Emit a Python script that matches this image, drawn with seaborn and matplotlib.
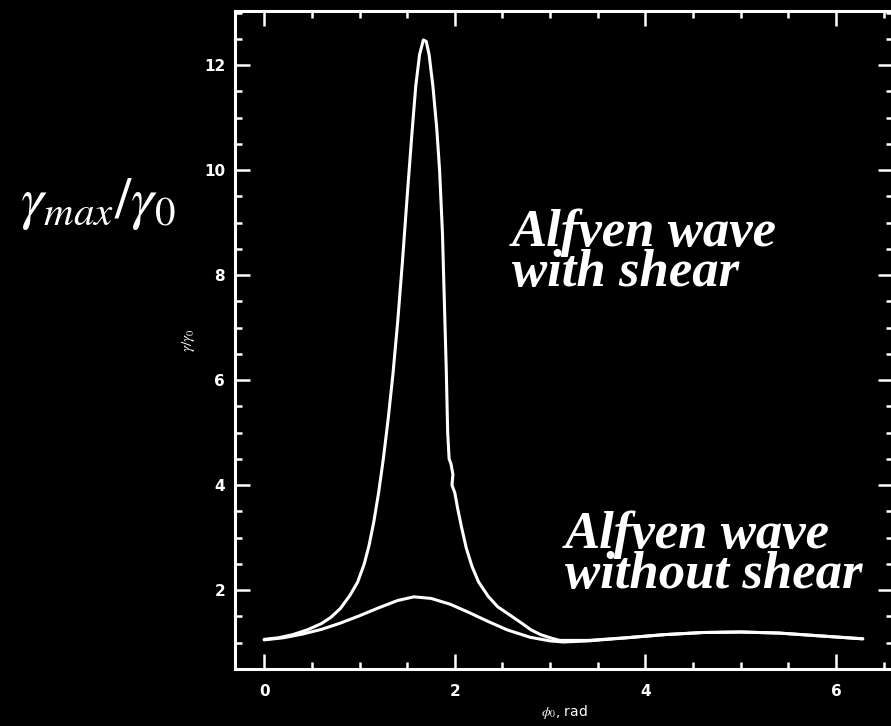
import seaborn as sns
import matplotlib.pyplot as plt
import pandas as pd
from matplotlib.ticker import MultipleLocator

# -- DATA -- #
shear_phi = [0.00, 0.15, 0.30, 0.45, 0.60, 0.70, 0.80, 0.90, 0.98, 1.05, 1.10,
             1.15, 1.20, 1.25, 1.30, 1.35, 1.40, 1.45, 1.50, 1.55, 1.59, 1.63,
             1.67, 1.70, 1.73, 1.77, 1.81, 1.84, 1.87, 1.89, 1.91, 1.925, 1.94,
             1.96, 1.98, 1.97, 2.00, 2.03, 2.07, 2.12, 2.18, 2.25, 2.35, 2.45,
             2.58, 2.70, 2.80, 2.90, 3.00, 3.10, 3.40, 3.80, 4.20, 4.60, 5.00,
             5.40, 5.80, 6.28]
shear_gamma = [1.06, 1.09, 1.15, 1.24, 1.36, 1.48, 1.65, 1.90, 2.15, 2.50, 2.85,
               3.30, 3.85, 4.50, 5.25, 6.10, 7.10, 8.25, 9.50, 10.70, 11.60, 12.20,
               12.48, 12.45, 12.20, 11.60, 10.80, 10.00, 8.80, 7.50, 6.20, 5.00, 4.50,
               4.40, 4.20, 4.00, 3.85, 3.55, 3.20, 2.80, 2.45, 2.15, 1.88, 1.68,
               1.52, 1.37, 1.24, 1.15, 1.09, 1.04, 1.04, 1.09, 1.15, 1.19, 1.20,
               1.18, 1.13, 1.07]

noshear_phi = [0.00, 0.20, 0.40, 0.60, 0.80, 1.00, 1.20, 1.40, 1.57, 1.75, 1.95,
               2.15, 2.35, 2.55, 2.79, 3.00, 3.14, 3.40, 3.80, 4.20, 4.60, 5.00,
               5.40, 5.80, 6.28]
noshear_gamma = [1.05, 1.09, 1.16, 1.25, 1.37, 1.51, 1.66, 1.80, 1.87, 1.84, 1.73,
                 1.57, 1.40, 1.24, 1.10, 1.03, 1.01, 1.03, 1.09, 1.15, 1.19, 1.20,
                 1.18, 1.13, 1.07]

x_ticks = [0, 2, 4, 6]
y_ticks = [2, 4, 6, 8, 10, 12]

# -- STYLE -- #
sns.set_theme(style='ticks')
plt.rcParams['font.family'] = ['DejaVu Sans']
plt.rcParams['mathtext.fontset'] = 'stix'

fig = plt.figure(figsize=(8.91, 7.26), dpi=100, facecolor='black')
ax = fig.add_axes([0.2637, 0.0785, 0.7385, 0.9063])
ax.set_facecolor('black')

df_shear = pd.DataFrame({'phi': shear_phi, 'gamma': shear_gamma})
df_noshear = pd.DataFrame({'phi': noshear_phi, 'gamma': noshear_gamma})

sns.lineplot(data=df_shear, x='phi', y='gamma', ax=ax, color='white',
             lw=2.2, sort=False, estimator=None)
sns.lineplot(data=df_noshear, x='phi', y='gamma', ax=ax, color='white',
             lw=2.2, sort=False, estimator=None)

ax.set_xlim(-0.307, 6.597)
ax.set_ylim(0.495, 13.03)
ax.set_xticks(x_ticks)
ax.set_yticks(y_ticks)
ax.xaxis.set_minor_locator(MultipleLocator(0.5))
ax.yaxis.set_minor_locator(MultipleLocator(0.5))

for s in ax.spines.values():
    s.set_color('white')
    s.set_linewidth(2.2)

ax.tick_params(which='both', direction='in', top=True, right=True,
               colors='white', width=1.8)
ax.tick_params(which='major', length=11, labelsize=11)
ax.tick_params(axis='x', which='major', pad=11)
ax.tick_params(axis='y', which='major', pad=7)
ax.tick_params(which='minor', length=5)
for lab in ax.get_xticklabels() + ax.get_yticklabels():
    lab.set_fontweight('bold')

ax.set_xlabel(r'$\phi_0$, rad', color='white', fontsize=10, labelpad=3)
ax.set_ylabel(r'$\gamma/\gamma_0$', color='white', fontsize=11, labelpad=5)

# annotations, two lines per block with tight spacing
serif = dict(color='white', family='Liberation Serif', style='italic',
             weight='bold', fontsize=38, va='top', ha='left', linespacing=0.8)
fig.text(512 / 891, 1 - 208 / 726, 'Alfven wave\nwith shear', **serif)
fig.text(565 / 891, 1 - 510 / 726, 'Alfven wave\nwithout shear', **serif)

fig.text(20 / 891, 1 - 218 / 726, r'$\gamma_{max}/\gamma_0$', color='white',
         fontsize=42, va='baseline', ha='left')

plt.savefig('out.png', dpi=100, facecolor='black')
